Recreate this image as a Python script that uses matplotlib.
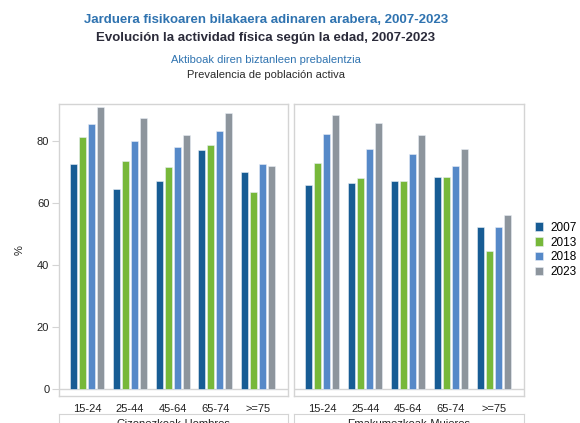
import numpy as np
import matplotlib
matplotlib.use("Agg")
import matplotlib.pyplot as plt

plt.rcParams['font.family'] = ['Liberation Sans', 'DejaVu Sans']

groups = ['15-24', '25-44', '45-64', '65-74', '>=75']
years = ['2007', '2013', '2018', '2023']
colors = ['#175c94', '#77b83a', '#5689c8', '#8d959d']

# Gizonezkoak-Hombres
men = {
    '2007': [72.5, 64.5, 67.0, 77.0, 70.0],
    '2013': [81.5, 73.5, 71.5, 78.7, 63.5],
    '2018': [85.4, 80.0, 78.1, 83.4, 72.5],
    '2023': [91.1, 87.4, 81.9, 89.0, 71.9],
}
# Emakumezkoak-Mujeres
women = {
    '2007': [65.7, 66.5, 67.2, 68.5, 52.4],
    '2013': [72.8, 68.1, 67.1, 68.3, 44.6],
    '2018': [82.3, 77.6, 76.0, 71.9, 52.4],
    '2023': [88.6, 85.9, 82.0, 77.6, 56.3],
}
panel_labels = ['Gizonezkoak-Hombres', 'Emakumezkoak-Mujeres']

fig = plt.figure(figsize=(5.8, 4.23), dpi=100)
W, H = 580, 423

def ax_rect(x0, y0, x1, y1):
    return [x0 / W, 1 - y1 / H, (x1 - x0) / W, (y1 - y0) / H]

frame_col = '#d4d4d4'
x = np.arange(len(groups))
pitch = 0.21
width = 0.16

axes = [fig.add_axes(ax_rect(59, 104, 288, 396)),
        fig.add_axes(ax_rect(294, 104, 524, 396))]

for k, (ax, data) in enumerate(zip(axes, [men, women])):
    for i, yr in enumerate(years):
        ax.bar(x + (i - 1.5) * pitch, data[yr], width=width, color=colors[i],
               edgecolor='#e8eef5', linewidth=0.4, label=yr, zorder=2)
    ax.set_xlim(-0.66, 4.70)
    ax.set_ylim(-2.3, 92)
    ax.axhline(0, color=frame_col, lw=1.0, zorder=1)
    for s in ax.spines.values():
        s.set_color(frame_col)
        s.set_linewidth(1.0)
    ax.set_xticks(x)
    ax.set_xticklabels(groups, fontsize=8, color='#222222')
    ax.tick_params(axis='x', length=0, pad=6)
    ax.set_yticks([0, 20, 40, 60, 80])
    if k == 0:
        ax.tick_params(axis='y', length=5, color=frame_col, labelsize=8,
                       labelcolor='#222222', pad=2)
        ax.set_ylabel('%', fontsize=8, color='#222222', labelpad=9)
    else:
        ax.tick_params(axis='y', length=0, labelleft=False)
    # strip below panel
    pos = ax.get_position()
    strip = fig.add_axes([pos.x0, 1 - 440 / H, pos.width, 26 / H])
    strip.set_xticks([])
    strip.set_yticks([])
    for s in strip.spines.values():
        s.set_color(frame_col)
    strip.text(0.5, 0.62, panel_labels[k], ha='center', va='center',
               fontsize=8, color='#222222', transform=strip.transAxes)

axes[1].legend(loc='center left', bbox_to_anchor=(1.0, 0.5), frameon=False,
               fontsize=8.5, handlelength=0.7, handleheight=0.7,
               handletextpad=0.6, labelspacing=0.25)

cx = 266 / W
fig.text(cx, 1 - 20 / H, 'Jarduera fisikoaren bilakaera adinaren arabera, 2007-2023',
         ha='center', va='center', fontsize=9.5, fontweight='bold', color='#2f73b0')
fig.text(cx, 1 - 38 / H, 'Evolución la actividad física según la edad, 2007-2023',
         ha='center', va='center', fontsize=9.5, fontweight='bold', color='#2b2b3a')
fig.text(cx, 1 - 60 / H, 'Aktiboak diren biztanleen prebalentzia',
         ha='center', va='center', fontsize=8, color='#2f73b0')
fig.text(cx, 1 - 75 / H, 'Prevalencia de población activa',
         ha='center', va='center', fontsize=8, color='#2b2b2b')

fig.savefig('out.png', dpi=100)
